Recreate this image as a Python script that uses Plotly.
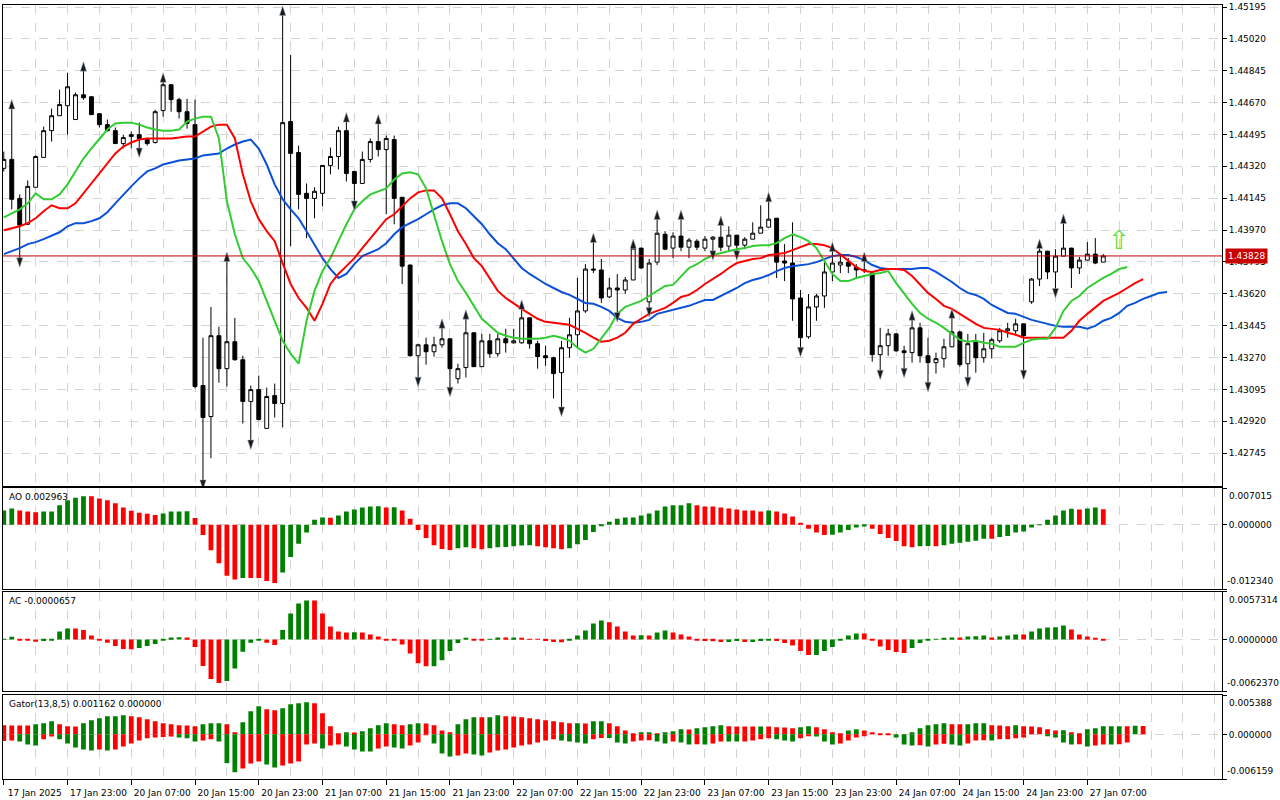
import plotly.graph_objects as go
from plotly.subplots import make_subplots

# ---- price bars (H1), index 0 = 17 Jan 2025 15:00 ----
OPEN = [1.44309, 1.44358, 1.44144, 1.44002, 1.44205, 1.44369, 1.44516, 1.44598, 1.44653, 1.44577,
        1.44713, 1.44702, 1.44609, 1.44549, 1.44516, 1.44445, 1.44484, 1.44494, 1.44467, 1.44451,
        1.44626, 1.44768, 1.44686, 1.44620, 1.44549, 1.43116, 1.42946, 1.43390, 1.43209, 1.43357,
        1.43258, 1.43029, 1.43094, 1.42881, 1.43061, 1.43018, 1.44566, 1.44396, 1.44172, 1.44144,
        1.44172, 1.44325, 1.44374, 1.44516, 1.44292, 1.44226, 1.44358, 1.44456, 1.44412, 1.44467,
        1.44150, 1.43778, 1.43280, 1.43340, 1.43302, 1.43340, 1.43373, 1.43154, 1.43215, 1.43406,
        1.43220, 1.43362, 1.43291, 1.43373, 1.43351, 1.43351, 1.43488, 1.43346, 1.43280, 1.43269,
        1.43187, 1.43324, 1.43395, 1.43526, 1.43756, 1.43751, 1.43603, 1.43652, 1.43641, 1.43696,
        1.43871, 1.43576, 1.43794, 1.43947, 1.43871, 1.43937, 1.43876, 1.43909, 1.43871, 1.43920,
        1.43931, 1.43882, 1.43942, 1.43887, 1.43920, 1.43953, 1.43986, 1.44035, 1.43800, 1.43789,
        1.43597, 1.43384, 1.43548, 1.43608, 1.43740, 1.43778, 1.43794, 1.43767, 1.43751, 1.43734,
        1.43286, 1.43335, 1.43400, 1.43307, 1.43297, 1.43433, 1.43280, 1.43242, 1.43264, 1.43329,
        1.43411, 1.43236, 1.43357, 1.43269, 1.43318, 1.43362, 1.43417, 1.43417, 1.43455, 1.43576,
        1.43701, 1.43854, 1.43740, 1.43827, 1.43871, 1.43762, 1.43805, 1.43838, 1.43794]
HIGH = [1.44401, 1.44637, 1.44166, 1.44243, 1.44380, 1.44538, 1.44637, 1.44741, 1.44834, 1.44725,
        1.44845, 1.44705, 1.44612, 1.44577, 1.44533, 1.44494, 1.44511, 1.44560, 1.44478, 1.44631,
        1.44784, 1.44770, 1.44697, 1.44691, 1.44686, 1.43379, 1.43548, 1.43439, 1.43800, 1.43488,
        1.43280, 1.43116, 1.43171, 1.43105, 1.43127, 1.45151, 1.44932, 1.44434, 1.44226, 1.44205,
        1.44325, 1.44423, 1.44538, 1.44566, 1.44294, 1.44401, 1.44473, 1.44555, 1.44489, 1.44489,
        1.44152, 1.43780, 1.43346, 1.43379, 1.43384, 1.43433, 1.43375, 1.43236, 1.43483, 1.43408,
        1.43400, 1.43400, 1.43400, 1.43428, 1.43428, 1.43537, 1.43490, 1.43362, 1.43335, 1.43275,
        1.43362, 1.43488, 1.43707, 1.43783, 1.43904, 1.43811, 1.43707, 1.43729, 1.43712, 1.43871,
        1.43873, 1.43811, 1.44030, 1.43964, 1.43958, 1.44030, 1.43926, 1.43920, 1.43937, 1.43937,
        1.43997, 1.43991, 1.43944, 1.43931, 1.44013, 1.44106, 1.44128, 1.44037, 1.43893, 1.44013,
        1.43641, 1.43619, 1.43619, 1.43811, 1.43854, 1.43838, 1.43816, 1.43783, 1.43800, 1.43736,
        1.43433, 1.43428, 1.43405, 1.43335, 1.43477, 1.43461, 1.43379, 1.43297, 1.43373, 1.43488,
        1.43417, 1.43400, 1.43400, 1.43406, 1.43379, 1.43433, 1.43461, 1.43483, 1.43457, 1.43707,
        1.43871, 1.43856, 1.43865, 1.44008, 1.43873, 1.43822, 1.43904, 1.43926, 1.43838]
LOW = [1.44292, 1.44084, 1.43816, 1.43997, 1.44205, 1.44369, 1.44456, 1.44598, 1.44494, 1.44577,
       1.44686, 1.44604, 1.44533, 1.44511, 1.44445, 1.44418, 1.44418, 1.44418, 1.44434, 1.44445,
       1.44593, 1.44620, 1.44582, 1.44527, 1.43100, 1.42596, 1.42717, 1.43132, 1.43111, 1.43253,
       1.42908, 1.42815, 1.42925, 1.42881, 1.42941, 1.42886, 1.43882, 1.44084, 1.43926, 1.44035,
       1.44101, 1.44276, 1.44303, 1.44237, 1.44128, 1.44226, 1.44341, 1.44374, 1.44057, 1.44002,
       1.43674, 1.43275, 1.43160, 1.43231, 1.43275, 1.43324, 1.43105, 1.43127, 1.43160, 1.43220,
       1.43218, 1.43269, 1.43275, 1.43297, 1.43346, 1.43346, 1.43318, 1.43209, 1.43225, 1.43045,
       1.42996, 1.43269, 1.43324, 1.43515, 1.43734, 1.43570, 1.43597, 1.43515, 1.43619, 1.43696,
       1.43756, 1.43543, 1.43778, 1.43860, 1.43816, 1.43854, 1.43816, 1.43860, 1.43854, 1.43854,
       1.43854, 1.43854, 1.43854, 1.43865, 1.43920, 1.43953, 1.43986, 1.43707, 1.43690, 1.43472,
       1.43324, 1.43373, 1.43472, 1.43543, 1.43690, 1.43734, 1.43734, 1.43712, 1.43734, 1.43247,
       1.43198, 1.43280, 1.43302, 1.43209, 1.43242, 1.43242, 1.43132, 1.43182, 1.43215, 1.43327,
       1.43220, 1.43160, 1.43187, 1.43242, 1.43264, 1.43351, 1.43379, 1.43390, 1.43198, 1.43565,
       1.43663, 1.43701, 1.43647, 1.43827, 1.43652, 1.43729, 1.43805, 1.43783, 1.43794]
CLOSE = [1.44358, 1.44139, 1.43997, 1.44210, 1.44374, 1.44516, 1.44598, 1.44659, 1.44757, 1.44713,
         1.44697, 1.44604, 1.44549, 1.44516, 1.44445, 1.44478, 1.44494, 1.44473, 1.44445, 1.44620,
         1.44768, 1.44686, 1.44620, 1.44555, 1.43111, 1.42941, 1.43390, 1.43209, 1.43357, 1.43258,
         1.43029, 1.43094, 1.42930, 1.43056, 1.43018, 1.44560, 1.44391, 1.44166, 1.44144, 1.44183,
         1.44325, 1.44374, 1.44516, 1.44281, 1.44226, 1.44358, 1.44456, 1.44412, 1.44473, 1.44144,
         1.43772, 1.43280, 1.43340, 1.43302, 1.43340, 1.43373, 1.43209, 1.43209, 1.43406, 1.43220,
         1.43362, 1.43291, 1.43373, 1.43351, 1.43362, 1.43488, 1.43346, 1.43275, 1.43269, 1.43182,
         1.43324, 1.43395, 1.43526, 1.43756, 1.43751, 1.43597, 1.43652, 1.43641, 1.43696, 1.43871,
         1.43762, 1.43789, 1.43953, 1.43865, 1.43937, 1.43876, 1.43915, 1.43876, 1.43920, 1.43931,
         1.43876, 1.43942, 1.43887, 1.43920, 1.43953, 1.43986, 1.44030, 1.43794, 1.43789, 1.43592,
         1.43379, 1.43548, 1.43608, 1.43740, 1.43789, 1.43794, 1.43772, 1.43751, 1.43750, 1.43286,
         1.43335, 1.43400, 1.43307, 1.43297, 1.43433, 1.43280, 1.43242, 1.43264, 1.43329, 1.43411,
         1.43231, 1.43346, 1.43269, 1.43318, 1.43368, 1.43417, 1.43428, 1.43455, 1.43390, 1.43701,
         1.43854, 1.43740, 1.43827, 1.43871, 1.43762, 1.43805, 1.43838, 1.43789, 1.43828]

# ---- Alligator lines (already shifted forward: jaw +8, teeth +5, lips +3) ----
JAW = [1.43838, 1.43854, 1.43871, 1.43893, 1.43904, 1.43920, 1.43937, 1.43958, 1.43991, 1.44008,
       1.44008, 1.44019, 1.44035, 1.44068, 1.44117, 1.44166, 1.44210, 1.44254, 1.44292, 1.44309,
       1.44330, 1.44341, 1.44352, 1.44358, 1.44363, 1.44380, 1.44385, 1.44391, 1.44418, 1.44440,
       1.44456, 1.44467, 1.44418, 1.44330, 1.44221, 1.44139, 1.44084, 1.44035, 1.43964, 1.43893,
       1.43816, 1.43756, 1.43707, 1.43729, 1.43783, 1.43827, 1.43844, 1.43865, 1.43898, 1.43947,
       1.43986, 1.44008, 1.44030, 1.44057, 1.44084, 1.44106, 1.44117, 1.44117, 1.44090, 1.44046,
       1.44002, 1.43947, 1.43898, 1.43865, 1.43811, 1.43762, 1.43729, 1.43701, 1.43674, 1.43652,
       1.43630, 1.43614, 1.43592, 1.43570, 1.43565, 1.43548, 1.43526, 1.43488, 1.43466, 1.43461,
       1.43466, 1.43477, 1.43510, 1.43521, 1.43532, 1.43543, 1.43554, 1.43570, 1.43586, 1.43586,
       1.43608, 1.43630, 1.43652, 1.43679, 1.43696, 1.43707, 1.43723, 1.43745, 1.43762, 1.43772,
       1.43778, 1.43783, 1.43794, 1.43811, 1.43827, 1.43833, 1.43833, 1.43822, 1.43805, 1.43778,
       1.43762, 1.43756, 1.43756, 1.43756, 1.43756, 1.43762, 1.43762, 1.43740, 1.43712, 1.43685,
       1.43652, 1.43625, 1.43614, 1.43592, 1.43559, 1.43537, 1.43515, 1.43510, 1.43493, 1.43477,
       1.43466, 1.43455, 1.43444, 1.43439, 1.43439, 1.43439, 1.43428, 1.43444, 1.43472, 1.43488,
       1.43515, 1.43554, 1.43570, 1.43592, 1.43608, 1.43625, 1.43630]
TEETH = [1.43969, 1.43980, 1.43991, 1.44008, 1.44035, 1.44073, 1.44106, 1.44090, 1.44090, 1.44117,
         1.44172, 1.44226, 1.44281, 1.44336, 1.44391, 1.44429, 1.44451, 1.44467, 1.44473, 1.44473,
         1.44473, 1.44473, 1.44478, 1.44484, 1.44484, 1.44511, 1.44538, 1.44549, 1.44549, 1.44473,
         1.44276, 1.44128, 1.44030, 1.43964, 1.43909, 1.43789, 1.43674, 1.43597, 1.43543, 1.43472,
         1.43565, 1.43674, 1.43729, 1.43772, 1.43816, 1.43871, 1.43926, 1.43980, 1.44030, 1.44057,
         1.44101, 1.44144, 1.44177, 1.44188, 1.44188, 1.44144, 1.44057, 1.43964, 1.43893, 1.43816,
         1.43772, 1.43707, 1.43636, 1.43597, 1.43565, 1.43537, 1.43510, 1.43483, 1.43466, 1.43461,
         1.43455, 1.43450, 1.43428, 1.43406, 1.43379, 1.43357, 1.43362, 1.43379, 1.43406, 1.43455,
         1.43483, 1.43510, 1.43526, 1.43543, 1.43570, 1.43603, 1.43614, 1.43641, 1.43674, 1.43701,
         1.43729, 1.43762, 1.43789, 1.43800, 1.43811, 1.43816, 1.43833, 1.43838, 1.43844, 1.43860,
         1.43876, 1.43893, 1.43893, 1.43887, 1.43871, 1.43838, 1.43800, 1.43767, 1.43745, 1.43740,
         1.43751, 1.43756, 1.43756, 1.43751, 1.43718, 1.43674, 1.43625, 1.43592, 1.43554, 1.43537,
         1.43510, 1.43483, 1.43455, 1.43433, 1.43428, 1.43422, 1.43406, 1.43395, 1.43379, 1.43379,
         1.43379, 1.43379, 1.43379, 1.43379, 1.43417, 1.43472, 1.43510, 1.43543, 1.43581, 1.43603,
         1.43625, 1.43652, 1.43679, 1.43701]
LIPS = [1.44040, 1.44062, 1.44084, 1.44117, 1.44172, 1.44139, 1.44139, 1.44166, 1.44221, 1.44292,
        1.44363, 1.44418, 1.44467, 1.44522, 1.44555, 1.44560, 1.44560, 1.44549, 1.44533, 1.44522,
        1.44516, 1.44516, 1.44522, 1.44566, 1.44582, 1.44593, 1.44593, 1.44473, 1.44128, 1.43947,
        1.43816, 1.43762, 1.43690, 1.43581, 1.43472, 1.43362, 1.43291, 1.43236, 1.43472, 1.43636,
        1.43745, 1.43816, 1.43909, 1.44002, 1.44084, 1.44128, 1.44166, 1.44183, 1.44199, 1.44248,
        1.44281, 1.44287, 1.44276, 1.44199, 1.44057, 1.43909, 1.43783, 1.43690, 1.43625, 1.43554,
        1.43483, 1.43444, 1.43406, 1.43390, 1.43379, 1.43373, 1.43373, 1.43373, 1.43379, 1.43390,
        1.43379, 1.43362, 1.43324, 1.43297, 1.43318, 1.43373, 1.43433, 1.43510, 1.43548, 1.43565,
        1.43581, 1.43608, 1.43636, 1.43663, 1.43669, 1.43718, 1.43762, 1.43783, 1.43811, 1.43833,
        1.43844, 1.43854, 1.43865, 1.43871, 1.43882, 1.43887, 1.43887, 1.43898, 1.43926, 1.43947,
        1.43931, 1.43909, 1.43871, 1.43800, 1.43729, 1.43690, 1.43690, 1.43707, 1.43718, 1.43729,
        1.43734, 1.43745, 1.43679, 1.43619, 1.43565, 1.43515, 1.43483, 1.43461, 1.43433, 1.43400,
        1.43368, 1.43357, 1.43362, 1.43351, 1.43346, 1.43329, 1.43329, 1.43329, 1.43351, 1.43368,
        1.43373, 1.43373, 1.43433, 1.43526, 1.43581, 1.43608, 1.43652, 1.43679, 1.43707, 1.43729,
        1.43756, 1.43767]

FRACTAL_UP = [1, 10, 20, 28, 35, 43, 47, 55, 58, 65, 74, 79, 82, 85, 90, 96, 104, 108, 114, 119, 130, 133]
FRACTAL_DOWN = [2, 17, 25, 31, 44, 52, 56, 70, 77, 81, 89, 92, 100, 110, 113, 116, 121, 128, 132]

SIGNAL_BAR = 140
SIGNAL_PRICE = 1.43915
LAST_PRICE = 1.43828

# ---- oscillators ----
AO = [0.00274, 0.00313, 0.00274, 0.00254, 0.00241, 0.00254, 0.00256, 0.00372, 0.00469, 0.00515,
      0.00548, 0.00545, 0.00502, 0.00469, 0.00411, 0.00333, 0.00267, 0.00228, 0.00209, 0.00189,
      0.00215, 0.00254, 0.00256, 0.00258, 0.00130, -0.00196, -0.00489, -0.00737, -0.00978, -0.01050,
      -0.01017, -0.01019, -0.01020, -0.01076, -0.01115, -0.00913, -0.00619, -0.00365, -0.00150, 0.00098,
      0.00137, 0.00135, 0.00176, 0.00254, 0.00293, 0.00333, 0.00352, 0.00354, 0.00333, 0.00336,
      0.00274, 0.00117, -0.00098, -0.00254, -0.00391, -0.00463, -0.00482, -0.00450, -0.00430, -0.00450,
      -0.00469, -0.00450, -0.00430, -0.00424, -0.00411, -0.00398, -0.00391, -0.00411, -0.00430, -0.00450,
      -0.00469, -0.00450, -0.00372, -0.00293, -0.00137, -0.00020, 0.00059, 0.00117, 0.00137, 0.00138,
      0.00176, 0.00215, 0.00274, 0.00352, 0.00372, 0.00373, 0.00411, 0.00372, 0.00352, 0.00351,
      0.00333, 0.00313, 0.00293, 0.00274, 0.00273, 0.00254, 0.00274, 0.00254, 0.00215, 0.00156,
      0.00039, -0.00078, -0.00150, -0.00196, -0.00190, -0.00150, -0.00098, -0.00052, -0.00033, -0.00078,
      -0.00176, -0.00254, -0.00313, -0.00411, -0.00430, -0.00411, -0.00408, -0.00411, -0.00391, -0.00365,
      -0.00346, -0.00326, -0.00306, -0.00267, -0.00270, -0.00235, -0.00215, -0.00150, -0.00130, -0.00052,
      -0.00007, 0.00098, 0.00176, 0.00274, 0.00306, 0.00293, 0.00313, 0.00333, 0.002963]
AC = [0.00005, 0.00032, -0.00008, -0.00009, -0.00028, -0.00020, -0.00008, 0.00096, 0.00132, 0.00130,
      0.00112, 0.00048, -0.00008, -0.00040, -0.00080, -0.00116, -0.00118, -0.00104, -0.00080, -0.00056,
      -0.00008, 0.00024, 0.00026, 0.00022, -0.00092, -0.00319, -0.00475, -0.00523, -0.00499, -0.00351,
      -0.00148, -0.00040, -0.00006, -0.00040, -0.00068, 0.00112, 0.00311, 0.00431, 0.00467, 0.00466,
      0.00311, 0.00156, 0.00096, 0.00084, 0.00085, 0.00083, 0.00060, 0.00036, -0.00006, -0.00008,
      -0.00060, -0.00168, -0.00287, -0.00323, -0.00322, -0.00251, -0.00140, -0.00044, 0.00012, -0.00008,
      -0.00010, 0.00001, 0.00024, 0.00022, 0.00024, 0.00012, 0.00008, -0.00001, -0.00020, -0.00032,
      -0.00034, -0.00008, 0.00048, 0.00108, 0.00192, 0.00227, 0.00207, 0.00156, 0.00096, 0.00048,
      0.00049, 0.00047, 0.00084, 0.00108, 0.00084, 0.00060, 0.00036, -0.00008, -0.00020, -0.00021,
      -0.00032, -0.00030, -0.00020, -0.00032, -0.00030, -0.00020, -0.00008, -0.00020, -0.00044, -0.00072,
      -0.00140, -0.00188, -0.00187, -0.00140, -0.00092, -0.00006, 0.00048, 0.00072, 0.00071, -0.00008,
      -0.00084, -0.00128, -0.00152, -0.00164, -0.00104, -0.00044, -0.00008, 0.00002, 0.00012, 0.00024,
      0.00023, 0.00036, 0.00037, 0.00048, 0.00024, 0.00036, 0.00048, 0.00060, 0.00059, 0.00096,
      0.00132, 0.00144, 0.00145, 0.00168, 0.00120, 0.00060, 0.00036, 0.00012, -0.0000657]
GATOR_UP = [0.00125, 0.00124, 0.00123, 0.00122, 0.00139, 0.00152, 0.00180, 0.00139, 0.00111, 0.00110,
            0.00152, 0.00194, 0.00222, 0.00249, 0.00250, 0.00263, 0.00249, 0.00236, 0.00208, 0.00180,
            0.00152, 0.00139, 0.00125, 0.00124, 0.00111, 0.00139, 0.00152, 0.00153, 0.00139, 0.00028,
            0.00166, 0.00319, 0.00388, 0.00347, 0.00333, 0.00360, 0.00416, 0.00430, 0.00444, 0.00430,
            0.00291, 0.00111, 0.00014, 0.00028, 0.00027, 0.00042, 0.00083, 0.00125, 0.00152, 0.00139,
            0.00125, 0.00139, 0.00152, 0.00150, 0.00125, 0.00055, 0.00028, 0.00139, 0.00208, 0.00236,
            0.00235, 0.00237, 0.00263, 0.00249, 0.00248, 0.00236, 0.00222, 0.00208, 0.00194, 0.00180,
            0.00166, 0.00152, 0.00153, 0.00151, 0.00180, 0.00181, 0.00152, 0.00111, 0.00055, 0.00005,
            0.00028, 0.00029, 0.00014, 0.00028, 0.00042, 0.00069, 0.00068, 0.00083, 0.00097, 0.00111,
            0.00125, 0.00111, 0.00110, 0.00109, 0.00108, 0.00110, 0.00109, 0.00097, 0.00096, 0.00083,
            0.00097, 0.00111, 0.00097, 0.00069, 0.00028, 0.00014, 0.00055, 0.00069, 0.00055, 0.00028,
            0.00014, 0.00003, 0.0, 0.0, 0.00028, 0.00083, 0.00125, 0.00139, 0.00152, 0.00139,
            0.00138, 0.00140, 0.00152, 0.00153, 0.00125, 0.00124, 0.00111, 0.00125, 0.00111, 0.00110,
            0.00097, 0.00069, 0.00055, 0.00056, 0.00028, 0.00014, 0.00069, 0.00083, 0.00111, 0.00112,
            0.00113, 0.00111, 0.00118, 0.001162]
GATOR_DOWN = [0.00090, 0.00083, 0.00097, 0.00139, 0.00152, 0.00069, 0.00028, 0.00069, 0.00125, 0.00180,
              0.00208, 0.00222, 0.00208, 0.00222, 0.00208, 0.00166, 0.00125, 0.00083, 0.00055, 0.00042,
              0.00037, 0.00028, 0.00042, 0.00055, 0.00097, 0.00083, 0.00069, 0.00097, 0.00397, 0.00522,
              0.00471, 0.00402, 0.00374, 0.00416, 0.00457, 0.00430, 0.00402, 0.00374, 0.00139, 0.00125,
              0.00194, 0.00152, 0.00139, 0.00166, 0.00208, 0.00236, 0.00237, 0.00194, 0.00166, 0.00180,
              0.00194, 0.00152, 0.00111, 0.00010, 0.00125, 0.00263, 0.00305, 0.00291, 0.00263, 0.00277,
              0.00291, 0.00249, 0.00222, 0.00208, 0.00180, 0.00152, 0.00139, 0.00111, 0.00083, 0.00069,
              0.00083, 0.00097, 0.00111, 0.00125, 0.00069, 0.00050, 0.00051, 0.00111, 0.00125, 0.00097,
              0.00083, 0.00082, 0.00097, 0.00125, 0.00097, 0.00111, 0.00139, 0.00138, 0.00139, 0.00125,
              0.00097, 0.00098, 0.00099, 0.00098, 0.00083, 0.00069, 0.00055, 0.00069, 0.00083, 0.00097,
              0.00055, 0.00014, 0.00028, 0.00097, 0.00139, 0.00125, 0.00083, 0.00042, 0.00014, 0.0,
              0.0, 0.0, 0.00042, 0.00139, 0.00152, 0.00151, 0.00166, 0.00139, 0.00130, 0.00139,
              0.00152, 0.00125, 0.00083, 0.00082, 0.00084, 0.00069, 0.00068, 0.00055, 0.00042, 0.0,
              0.0, 0.00014, 0.00042, 0.00111, 0.00139, 0.00138, 0.00166, 0.00152, 0.00139, 0.00140,
              0.00138, 0.00111, 0.0, 0.0]

TIME_LABELS = ["17 Jan 2025", "17 Jan 23:00", "20 Jan 07:00", "20 Jan 15:00", "20 Jan 23:00",
               "21 Jan 07:00", "21 Jan 15:00", "21 Jan 23:00", "22 Jan 07:00", "22 Jan 15:00",
               "22 Jan 23:00", "23 Jan 07:00", "23 Jan 15:00", "23 Jan 23:00", "24 Jan 07:00",
               "24 Jan 15:00", "24 Jan 23:00", "27 Jan 07:00"]
BARS_PER_LABEL = 8

# indicator panels: (value range, number format)
AO_RANGE = [-0.012340, 0.007015]
AC_RANGE = [-0.0062370, 0.0057314]
GATOR_RANGE = [-0.006159, 0.005388]

GREEN = "#008000"
RED = "#ff0000"
GRID = "#d4d4d4"
FONT = dict(family="DejaVu Sans", size=9, color="black")


def trend_colors(vals, first):
    out = [first]
    for a, b in zip(vals, vals[1:]):
        out.append(GREEN if b > a else RED)
    return out


fig = make_subplots(rows=4, cols=1, shared_xaxes=True, vertical_spacing=0.0)

bars = list(range(len(OPEN)))
fig.add_trace(go.Candlestick(
    x=bars, open=OPEN, high=HIGH, low=LOW, close=CLOSE,
    increasing=dict(line=dict(color="black", width=1), fillcolor="white"),
    decreasing=dict(line=dict(color="black", width=1), fillcolor="black"),
    whiskerwidth=0, hoverinfo="skip", showlegend=False), row=1, col=1)

for vals, color in [(JAW, "#0a50d8"), (TEETH, "#ff0000"), (LIPS, "#33cc33")]:
    fig.add_trace(go.Scatter(x=list(range(len(vals))), y=vals, mode="lines",
                             line=dict(color=color, width=2), hoverinfo="skip",
                             showlegend=False), row=1, col=1)

# fractal arrows (MT5 style arrow heads)
ARROW_GAP = 0.0005
fig.add_trace(go.Scatter(x=FRACTAL_UP, y=[HIGH[i] + ARROW_GAP for i in FRACTAL_UP], mode="markers",
                         marker=dict(symbol="arrow", angle=0, size=10, color="#1a1a1a",
                                     line=dict(color="#9ab", width=0.5)),
                         hoverinfo="skip", showlegend=False), row=1, col=1)
fig.add_trace(go.Scatter(x=FRACTAL_DOWN, y=[LOW[i] - ARROW_GAP for i in FRACTAL_DOWN], mode="markers",
                         marker=dict(symbol="arrow", angle=180, size=10, color="#1a1a1a",
                                     line=dict(color="#9ab", width=0.5)),
                         hoverinfo="skip", showlegend=False), row=1, col=1)

fig.add_hline(y=LAST_PRICE, line=dict(color="#c00000", width=1), row=1, col=1)

# AO / AC histograms
fig.add_trace(go.Bar(x=list(range(len(AO))), y=AO, width=0.6,
                     marker=dict(color=trend_colors(AO, GREEN), line_width=0),
                     hoverinfo="skip", showlegend=False), row=2, col=1)
fig.add_trace(go.Bar(x=list(range(len(AC))), y=AC, width=0.6,
                     marker=dict(color=trend_colors(AC, GREEN), line_width=0),
                     hoverinfo="skip", showlegend=False), row=3, col=1)

# Gator: upper |jaw-teeth|, lower -|teeth-lips|
fig.add_trace(go.Bar(x=list(range(len(GATOR_UP))), y=GATOR_UP, width=0.6,
                     marker=dict(color=trend_colors(GATOR_UP, RED), line_width=0),
                     hoverinfo="skip", showlegend=False), row=4, col=1)
fig.add_trace(go.Bar(x=list(range(len(GATOR_DOWN))), y=[-v for v in GATOR_DOWN], width=0.6,
                     marker=dict(color=trend_colors(GATOR_DOWN, RED), line_width=0),
                     hoverinfo="skip", showlegend=False), row=4, col=1)

# ---- axes ----
label_pos = [k * BARS_PER_LABEL for k in range(len(TIME_LABELS))]
for r in range(1, 5):
    fig.update_xaxes(
        range=[-0.1, 152.9], tickmode="array", tickvals=label_pos, ticktext=TIME_LABELS,
        showgrid=True, gridcolor=GRID, griddash="dash", gridwidth=1,
        minor=dict(tick0=0, dtick=BARS_PER_LABEL // 2, showgrid=True, gridcolor=GRID,
                   griddash="dash", gridwidth=1),
        showline=True, linecolor="black", linewidth=1, mirror=True, zeroline=False,
        rangeslider_visible=False, showticklabels=(r == 4),
        ticks="outside" if r == 4 else "", ticklen=5, tickcolor="black",
        ticklabelshift=31, tickfont=FONT, row=r, col=1)

price_ticks = [round(1.42745 + 0.00175 * k, 5) for k in range(15)]
Y_COMMON = dict(side="right", showline=True, linecolor="black", linewidth=1, mirror=True,
                ticks="outside", ticklen=4, tickcolor="black", tickfont=FONT,
                gridcolor=GRID, griddash="dash", gridwidth=1, zeroline=False)
fig.update_yaxes(range=[1.42564, 1.45206], tickvals=price_ticks, tickformat=".5f",
                 domain=[0.3784, 1.0], **Y_COMMON, row=1, col=1)

panels = [(2, AO_RANGE, 6, [0.2452, 0.3758]),
          (3, AC_RANGE, 7, [0.1133, 0.2420]),
          (4, GATOR_RANGE, 6, [0.0, 0.1081])]
for r, (lo, hi), dec, dom in panels:
    # middle label as a tick label, edge values as annotations kept inside the panel
    fig.update_yaxes(range=[lo, hi], tickvals=[lo, 0, hi], ticktext=["", f"{0:.{dec}f}", ""],
                     domain=dom, **Y_COMMON, row=r, col=1)
    yref = f"y{r} domain"
    fig.add_annotation(x=1, xref="paper", xanchor="left", xshift=5, y=1, yref=yref,
                       yanchor="top", yshift=-1, text=f"{hi:.{dec}f}", showarrow=False, font=FONT)
    fig.add_annotation(x=1, xref="paper", xanchor="left", xshift=3, y=0, yref=yref,
                       yanchor="bottom", yshift=1, text=f"{lo:.{dec}f}", showarrow=False, font=FONT)

# ---- labels ----
fig.add_annotation(x=1, xref="paper", xanchor="left", xshift=3, y=LAST_PRICE, yref="y",
                   text=f"{LAST_PRICE:.5f}", showarrow=False, bgcolor="#c80000",
                   borderpad=2, font=dict(family="DejaVu Sans", size=9, color="white"))
fig.add_annotation(x=SIGNAL_BAR, y=SIGNAL_PRICE, xref="x", yref="y", text="⇧", showarrow=False,
                   font=dict(family="DejaVu Sans", size=26, color="#66dd33"))

panel_titles = [("y2 domain", f"AO {AO[-1]:.6f}"),
                ("y3 domain", f"AC {AC[-1]:.7f}"),
                ("y4 domain", f"Gator(13,8,5) {GATOR_UP[-1]:.6f} {GATOR_DOWN[-1]:.6f}")]
for yref, text in panel_titles:
    fig.add_annotation(x=0, xref="paper", xanchor="left", xshift=4, y=1, yref=yref,
                       yanchor="top", yshift=-2, text=text, showarrow=False, font=FONT)

fig.update_layout(
    width=1280, height=800,
    margin=dict(l=2, r=54, t=3, b=20),
    plot_bgcolor="white", paper_bgcolor="white",
    barmode="overlay", hovermode=False, showlegend=False,
    font=FONT,
)

fig.write_html("out.html", config={"displayModeBar": False},
               post_script="document.body.style.margin='0';")
